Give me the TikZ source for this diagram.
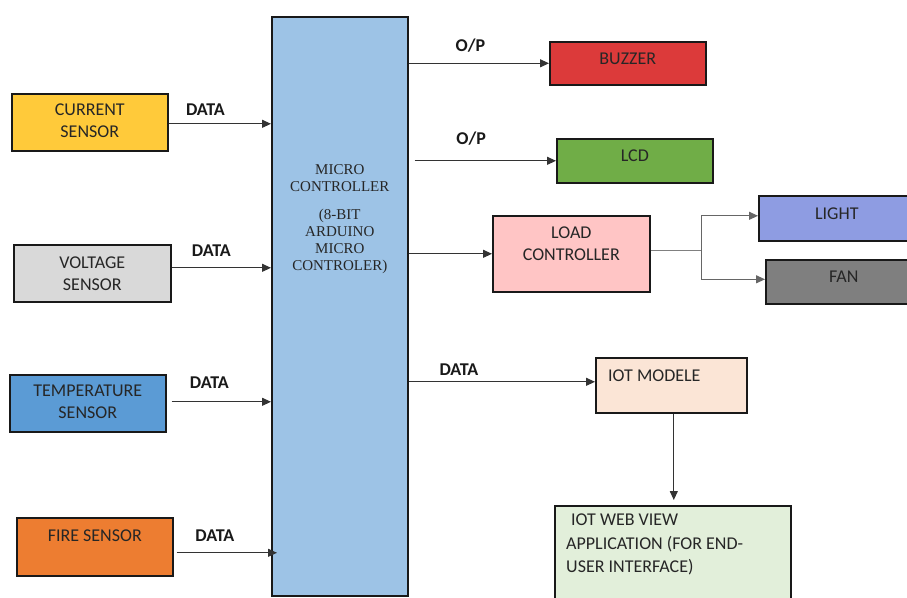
\documentclass[tikz,border=0pt]{standalone}
\usepackage{fontspec}
\setmainfont{Carlito}
\newfontfamily\mcfont{Liberation Serif}
\usetikzlibrary{arrows.meta}
\definecolor{curc}{HTML}{FFCA3A}
\definecolor{voltc}{HTML}{D9D9D9}
\definecolor{tempc}{HTML}{5B9BD5}
\definecolor{firec}{HTML}{ED7D31}
\definecolor{mcc}{HTML}{9DC3E6}
\definecolor{buzc}{HTML}{DC3A3A}
\definecolor{lcdc}{HTML}{70AD47}
\definecolor{loadc}{HTML}{FFC5C5}
\definecolor{lightc}{HTML}{8E9CE2}
\definecolor{fanc}{HTML}{7F7F7F}
\definecolor{iotc}{HTML}{FBE5D6}
\definecolor{webc}{HTML}{E2EFDA}
\begin{document}
\begin{tikzpicture}[x=1pt,y=-1pt,
  box/.style={draw=black!90, line width=1.6pt, anchor=north west, inner sep=0pt},
  txt/.style={font=\fontsize{18}{22}\selectfont, text=black!85, align=center, inner sep=0pt},
  mctxt/.style={font=\mcfont\fontsize{15}{17}\selectfont, text=black!85, align=center, inner sep=0pt},
  lbl/.style={font=\fontsize{18}{20}\selectfont\bfseries, text=black!90, inner sep=0pt},
  arr/.style={draw=black!80, line width=1.1pt, -{Triangle[length=9pt,width=8pt]}},
  plain/.style={draw=black!50, line width=1.3pt}]
\useasboundingbox (0,0) rectangle (907,597);
\fill[white] (0,0) rectangle (907,597);
\clip (0,0) rectangle (907,597);

% sensors
\node[box, fill=curc, minimum width=156pt, minimum height=57pt,
  label={[txt,yshift=1.5pt]center:CURRENT\\SENSOR}] (cur) at (11,93) {};
\node[box, fill=voltc, minimum width=157pt, minimum height=57pt,
  label={[txt]center:VOLTAGE\\SENSOR}] (volt) at (13,244) {};
\node[box, fill=tempc, minimum width=156pt, minimum height=57pt,
  label={[txt,yshift=1.5pt]center:TEMPERATURE\\SENSOR}] (temp) at (9,374) {};
\node[box, fill=firec, minimum width=156pt, minimum height=58pt,
  label={[txt,yshift=11pt]center:FIRE SENSOR}] (fire) at (16,517) {};

% microcontroller
\node[box, fill=mcc, minimum width=136pt, minimum height=579pt,
  label={[mctxt,yshift=87pt]center:MICRO\\CONTROLLER\\[11pt](8-BIT\\ARDUINO\\MICRO\\CONTROLER)}] (mc) at (271,16) {};

% outputs
\node[box, fill=buzc, minimum width=156pt, minimum height=43pt,
  label={[txt,yshift=4.5pt]center:BUZZER}] (buz) at (549,41) {};
\node[box, fill=lcdc, minimum width=156pt, minimum height=44pt,
  label={[txt,yshift=5pt]center:LCD}] (lcd) at (556,138) {};
\node[box, fill=loadc, minimum width=157pt, minimum height=76pt,
  label={[txt,yshift=10pt]center:LOAD\\CONTROLLER}] (load) at (492,215) {};
\node[box, fill=lightc, minimum width=156pt, minimum height=45pt,
  label={[txt,yshift=4.5pt]center:LIGHT}] (light) at (758,195) {};
\node[box, fill=fanc, minimum width=156pt, minimum height=44pt,
  label={[txt,yshift=5pt]center:FAN}] (fan) at (765,259) {};
\node[box, fill=iotc, minimum width=151pt, minimum height=55pt,
  label={[txt,anchor=west,xshift=13pt,yshift=9.5pt]west:IOT MODELE}] (iot) at (595,357) {};
\node[box, fill=webc, minimum width=236pt, minimum height=100pt,
  label={[txt,align=left,anchor=west,xshift=12pt,yshift=-39.5pt,font=\fontsize{18}{23.5}\selectfont]north west:\hspace*{5pt}IOT WEB VIEW\\APPLICATION (FOR END-\\USER INTERFACE)}] (web) at (554,505) {};

% sensor connectors
\draw[arr] ([yshift=-1.5pt]cur.east) -- node[lbl,pos=0.36,yshift=14pt]{DATA} ([yshift=-1.5pt]cur.east -| mc.west);
\draw[arr] ([yshift=5.5pt]volt.east) -- node[lbl,pos=0.4,yshift=17pt]{DATA} ([yshift=5.5pt]volt.east -| mc.west);
\draw[arr] ([xshift=5pt,yshift=1.5pt]temp.east) -- node[lbl,pos=0.38,yshift=19pt]{DATA} ([yshift=1.5pt]temp.east -| mc.west);
\draw[arr] ([xshift=3pt,yshift=-6pt]fire.east) -- node[lbl,pos=0.38,yshift=17pt]{DATA} ([xshift=6pt,yshift=-6pt]fire.east -| mc.west);

% output connectors
\draw[arr] (mc.east |- buz.west) -- node[lbl,pos=0.44,yshift=18pt]{O/P} (buz.west);
\draw[arr] ([xshift=6pt]mc.east |- lcd.west) -- node[lbl,pos=0.4,yshift=22pt]{O/P} (lcd.west);
\draw[arr] (mc.east |- load.west) -- (load.west);
\draw[arr] ([yshift=3.5pt]mc.east |- iot.west) -- node[lbl,pos=0.27,yshift=12pt]{DATA} ([yshift=3.5pt]iot.west);

% load branch
\coordinate (br) at ([xshift=51pt,yshift=3pt]load.east);
\draw[plain] ([yshift=3pt]load.east) -- (br);
\draw[arr,draw=black!60] (br) |- ([yshift=2.5pt]light.west);
\draw[arr,draw=black!60] (br) |- ([yshift=2.5pt]fan.west);

% IoT to web
\draw[arr, shorten >=5pt] ([xshift=2.5pt]iot.south) -- ([xshift=2.5pt]iot.south |- web.north);
\end{tikzpicture}
\end{document}
